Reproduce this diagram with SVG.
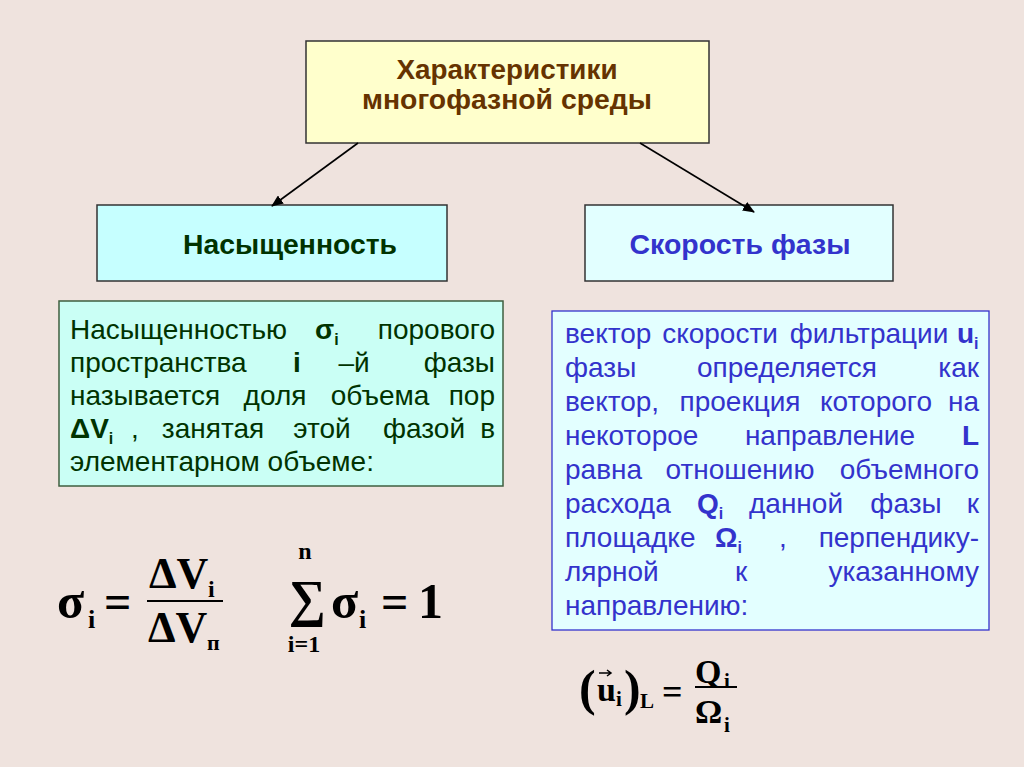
<svg xmlns="http://www.w3.org/2000/svg" width="1024" height="767" viewBox="0 0 1024 767">
<defs>
<marker id="ah" viewBox="0 0 12 10" refX="11" refY="5" markerWidth="12" markerHeight="10" markerUnits="userSpaceOnUse" orient="auto">
<path d="M0,0 L12,5 L0,10 z" fill="#000"/>
</marker>
<style>
.box{stroke:#333;stroke-width:1.5}
.ttl{font-family:"Liberation Sans",Arial,sans-serif;font-weight:bold;font-size:28px;fill:#663300;text-anchor:middle}
.lbl{font-family:"Liberation Sans",Arial,sans-serif;font-weight:bold;font-size:28px;text-anchor:middle}
.g{font-family:"Liberation Sans",Arial,sans-serif;font-size:28px;fill:#003300}
.b{font-family:"Liberation Sans",Arial,sans-serif;font-size:28px;fill:#3333CC}
.e{text-anchor:end}
.m{text-anchor:middle}
.bd{font-weight:bold}
.sub{font-size:16px;font-weight:bold}
.f{font-family:"Liberation Serif","Times New Roman",serif;font-weight:bold;fill:#000}
.conn{stroke:#000;stroke-width:1.6;fill:none}
</style>
</defs>
<rect width="1024" height="767" fill="#EFE3DE"/>

<g id="node-top">
<rect class="box" x="306" y="41" width="403" height="102" fill="#FFFFCC"/>
<text class="ttl" x="507" y="79" textLength="221" lengthAdjust="spacingAndGlyphs">Характеристики</text>
<text class="ttl" x="507" y="109" textLength="290" lengthAdjust="spacingAndGlyphs">многофазной среды</text>
</g>

<g id="node-saturation">
<rect class="box" x="97" y="205" width="350" height="76" fill="#C6FFFF"/>
<text class="lbl" x="290" y="254" fill="#003300" textLength="214" lengthAdjust="spacingAndGlyphs">Насыщенность</text>
</g>

<g id="node-velocity">
<rect class="box" x="585" y="205" width="308" height="76" fill="#E2FFFF"/>
<text class="lbl" x="740" y="254" fill="#3333CC" textLength="221" lengthAdjust="spacingAndGlyphs">Скорость фазы</text>
</g>

<g id="node-saturation-def">
<rect x="59" y="301" width="444" height="185" fill="#CAFFF5" stroke="#3F5F3F" stroke-width="1.5"/>
<text class="g" x="70" y="339">Насыщенностью</text>
<text class="g bd" x="315" y="339">σ<tspan class="sub" dy="6">i</tspan></text>
<text class="g e" x="495" y="339">порового</text>

<text class="g" x="70" y="372">пространства</text>
<text class="g bd m" x="297" y="372">i</text>
<text class="g m" x="354" y="372">–й</text>
<text class="g e" x="495" y="372">фазы</text>

<text class="g" x="70" y="405">называется</text>
<text class="g m" x="275" y="405">доля</text>
<text class="g m" x="380" y="405">объема</text>
<text class="g e" x="495" y="405">пор</text>

<text class="g bd" x="70" y="438">ΔV<tspan class="sub" dy="6">i</tspan></text>
<text class="g m" x="135" y="438">,</text>
<text class="g m" x="213" y="438">занятая</text>
<text class="g m" x="322" y="438">этой</text>
<text class="g m" x="424" y="438">фазой</text>
<text class="g e" x="495" y="438">в</text>

<text class="g" x="70" y="471">элементарном объеме:</text>
</g>

<g id="node-velocity-def">
<rect x="552" y="311" width="437" height="319" fill="#E3FFFF" stroke="#3333CC" stroke-width="1.3"/>
<text class="b" x="565" y="343">вектор</text>
<text class="b m" x="720" y="343">скорости</text>
<text class="b m" x="869" y="343">фильтрации</text>
<text class="b bd" x="957" y="343">u<tspan class="sub" dy="6">i</tspan></text>

<text class="b" x="565" y="377">фазы</text>
<text class="b m" x="787" y="377">определяется</text>
<text class="b e" x="979" y="377">как</text>

<text class="b" x="565" y="411">вектор,</text>
<text class="b m" x="740" y="411">проекция</text>
<text class="b m" x="876" y="411">которого</text>
<text class="b e" x="979" y="411">на</text>

<text class="b" x="565" y="445">некоторое</text>
<text class="b m" x="830" y="445">направление</text>
<text class="b bd e" x="979" y="445">L</text>

<text class="b" x="565" y="479">равна</text>
<text class="b m" x="740" y="479">отношению</text>
<text class="b e" x="979" y="479">объемного</text>

<text class="b" x="565" y="513">расхода</text>
<text class="b bd" x="697" y="513">Q<tspan class="sub" dy="6">i</tspan></text>
<text class="b m" x="796" y="513">данной</text>
<text class="b m" x="906" y="513">фазы</text>
<text class="b e" x="979" y="513">к</text>

<text class="b" x="565" y="547">площадке</text>
<text class="b bd" x="715" y="547">Ω<tspan class="sub" dy="6">i</tspan></text>
<text class="b m" x="783" y="547">,</text>
<text class="b e" x="979" y="547">перпендику-</text>

<text class="b" x="565" y="581">лярной</text>
<text class="b m" x="741" y="581">к</text>
<text class="b e" x="979" y="581">указанному</text>

<text class="b" x="565" y="615">направлению:</text>
</g>

<g id="formula-saturation">
<text class="f" x="57" y="618" font-size="50">σ</text>
<text class="f" x="88" y="628" font-size="26">i</text>
<text class="f" x="104" y="618" font-size="48">=</text>
<text class="f" x="149" y="588" font-size="44">ΔV</text>
<text class="f" x="208" y="597" font-size="24">i</text>
<line x1="147" y1="601" x2="223" y2="601" stroke="#000" stroke-width="2"/>
<text class="f" x="148" y="642" font-size="44">ΔV</text>
<text class="f" x="207" y="650" font-size="22">п</text>
</g>

<g id="formula-sum">
<text class="f" x="305" y="559" font-size="24" text-anchor="middle">n</text>
<text class="f" x="307" y="616" font-size="52" text-anchor="middle">∑</text>
<text class="f" x="304" y="652" font-size="24" text-anchor="middle">i=1</text>
<text class="f" x="331" y="618" font-size="50">σ</text>
<text class="f" x="359" y="628" font-size="26">i</text>
<text class="f" x="381" y="618" font-size="48">=</text>
<text class="f" x="418" y="618" font-size="50">1</text>
</g>

<g id="formula-velocity">
<text class="f" x="579" y="705" font-size="50">(</text>
<text class="f" x="597" y="701" font-size="34">u</text>
<path d="M599,673 L611,673 M607,670 L611,673 L607,676" stroke="#000" stroke-width="1.5" fill="none"/>
<text class="f" x="616" y="706" font-size="21">i</text>
<text class="f" x="624" y="705" font-size="50">)</text>
<text class="f" x="640" y="708" font-size="21">L</text>
<text class="f" x="662" y="704" font-size="36">=</text>
<text class="f" x="695" y="683" font-size="34">Q</text>
<text class="f" x="724" y="688" font-size="21">i</text>
<line x1="695" y1="687" x2="737" y2="687" stroke="#000" stroke-width="1.8"/>
<text class="f" x="695" y="723" font-size="34">Ω</text>
<text class="f" x="724" y="732" font-size="21">i</text>
</g>

<g id="connectors">
<line class="conn" x1="358" y1="143" x2="272" y2="206" marker-end="url(#ah)"/>
<line class="conn" x1="640" y1="143" x2="754" y2="212" marker-end="url(#ah)"/>
</g>
</svg>
